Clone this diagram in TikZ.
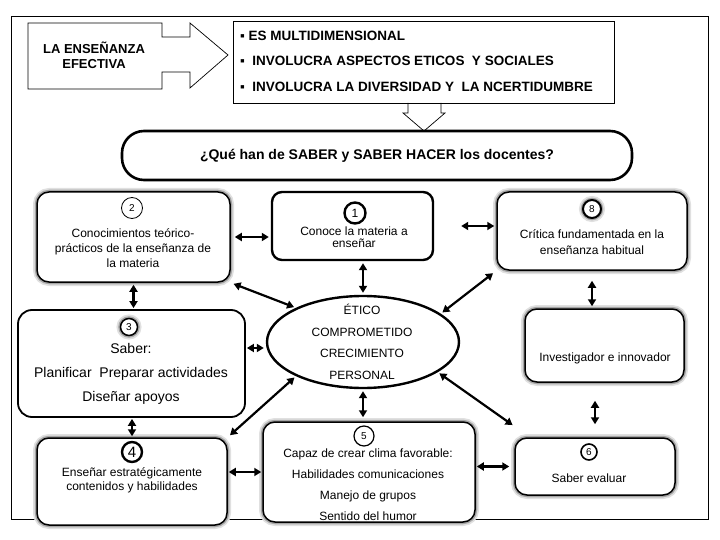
\documentclass[tikz,border=0pt]{standalone}
\usepackage{fontspec}
\setmainfont{Liberation Sans}
\usetikzlibrary{arrows.meta,shapes.geometric}

\tikzset{
	dbl/.style={{Triangle[length=7pt,width=8pt]}-{Triangle[length=7pt,width=8pt]}, line width=2.2pt},
	glow/.style={preaction={draw=black!12, line width=8pt}, preaction={draw=black!35, line width=4.5pt}},
	card/.style={draw, line width=1.5pt, fill=white, rounded corners=12pt, inner sep=0pt},
	num/.style={draw, circle, fill=white, inner sep=0pt, minimum size=20pt, font=\fontsize{10}{12}\selectfont},
	txt/.style={align=center, inner sep=0pt, font=\fontsize{12}{14}\selectfont},
	topfont/.style={inner sep=0pt, font=\bfseries\fontsize{13.5}{15}\selectfont}
}

\begin{document}
\begin{tikzpicture}[x=1pt,y=-1pt]
	\useasboundingbox (0,0) rectangle (720,540);
	%% marco
	\draw[line width=0.8pt] (11,16) rectangle (708,519);

	%% flecha de la izquierda y recuadro de ideas
	\draw[line width=0.7pt] (28,23) -- (162,23) -- (162,37) -- (190,37) -- (190,23) -- (228,55)
		-- (190,88) -- (190,72) -- (162,72) -- (162,89) -- (28,89) -- cycle;
	\node[topfont, align=center, font=\bfseries\fontsize{13}{15}\selectfont] (ense) at (94,55) {LA ENSEÑANZA\\EFECTIVA};
	\draw[line width=0.7pt] (233,21) rectangle (614,103);
	\node[topfont, anchor=west] (l1) at (240,36) {▪ ES MULTIDIMENSIONAL};
	\node[topfont, anchor=west] (l2) at (240,61) {▪\ \ INVOLUCRA ASPECTOS ETICOS\ \ Y SOCIALES};
	\node[topfont, anchor=west] (l3) at (240,87) {▪\ \ INVOLUCRA LA DIVERSIDAD Y\ \ LA NCERTIDUMBRE};
	\draw[line width=0.7pt] (408,103) -- (408,113) -- (403,113) -- (424,131) -- (445,113) -- (441,113) -- (441,103);

	%% pregunta
	\node[draw, line width=2.6pt, rounded corners=22pt, minimum width=510pt, minimum height=49pt,
		font=\bfseries\fontsize{14}{16}\selectfont] (ask) at (377,155.5) {¿Qué han de SABER y SABER HACER los docentes?};

	%% recuadros
	\node[card, glow, minimum width=193pt, minimum height=90pt] (b2) at (133.5,237) {};
	\node[card, line width=2.4pt, rounded corners=10pt, minimum width=161pt, minimum height=68pt] (b1) at (352.5,226) {};
	\node[card, glow, minimum width=190pt, minimum height=78pt] (b8) at (592,231) {};
	\node[card, line width=1.8pt, rounded corners=14pt, minimum width=227pt, minimum height=107pt] (b3) at (131.5,363.5) {};
	\node[card, glow, minimum width=159pt, minimum height=73pt] (inv) at (604.5,345.5) {};
	\node[card, glow, minimum width=190pt, minimum height=87pt] (b4) at (132,481.5) {};
	\node[card, glow, minimum width=212pt, minimum height=100pt] (b5) at (369,472) {};
	\node[card, glow, minimum width=160pt, minimum height=57pt] (b6) at (595,466.5) {};
	\node[draw, ellipse, line width=2.4pt, fill=white, inner sep=0pt, minimum width=192pt, minimum height=92pt] (ell) at (363,342) {};

	%% numeros
	\node[num, line width=0.8pt, minimum size=21pt] (n2) at (132,208) {2};
	\node[num, line width=2.4pt, minimum size=21pt, font=\fontsize{12}{14}\selectfont] (n1) at (355,213) {1};
	\node[num, glow, line width=2pt, minimum size=18pt] (n8) at (592,209) {8};
	\node[num, glow, line width=1.5pt, minimum size=17pt] (n3) at (129,327) {3};
	\node[num, line width=2.4pt, minimum size=20pt, font=\fontsize{15}{16}\selectfont] (n4) at (132,452) {4};
	\node[num, line width=1.2pt, minimum size=20pt] (n5) at (364,436) {5};
	\node[num, line width=1.6pt, minimum size=16pt] (n6) at (589,452) {6};

	%% textos
	\node[txt, font=\fontsize{12}{15}\selectfont] (t2) at (133,248) {Conocimientos teórico-\\prácticos de la enseñanza de\\la materia};
	\node[txt, font=\fontsize{12}{12.5}\selectfont] (t1) at (354,237) {Conoce la materia a\\enseñar};
	\node[txt, font=\fontsize{12}{16}\selectfont] (t8) at (592,242) {Crítica fundamentada en la\\enseñanza habitual};
	\node[txt, font=\fontsize{14}{24}\selectfont] (t3) at (131,374) {Saber:\\Planificar\ \ Preparar actividades\\Diseñar apoyos};
	\node[txt, font=\fontsize{12}{21.5}\selectfont] (te) at (362,342) {ÉTICO\\COMPROMETIDO\\CRECIMIENTO\\PERSONAL};
	\node[txt] (ti) at (605,358) {Investigador e innovador};
	\node[txt, font=\fontsize{12}{14}\selectfont] (t4) at (132,480) {Enseñar estratégicamente\\contenidos y habilidades};
	\node[txt, font=\fontsize{12}{21}\selectfont] (t5) at (368,484.5) {Capaz de crear clima favorable:\\Habilidades comunicaciones\\Manejo de grupos\\Sentido del humor};
	\node[txt] (t6) at (589,478) {Saber evaluar};

	%% flechas
	\draw[dbl, shorten <=4pt, shorten >=2pt] (b2.east) -- (b2.east -| b1.west);
	\draw[dbl, shorten <=27pt, shorten >=2pt] (b1.east) -- (b1.east -| b8.west);
	\draw[dbl, shorten <=2pt, shorten >=2pt] (ell.north |- b1.south) -- (ell.north);
	\draw[dbl, shorten <=2pt, shorten >=3pt] (ell.153) -- (b2.south east);
	\draw[dbl, shorten <=2pt, shorten >=4pt] (ell.20) -- (b8.south west);
	\draw[dbl, shorten <=10pt, shorten >=2pt] (b8.south) -- (b8.south |- inv.north);
	\draw[dbl, shorten <=2pt, shorten >=1pt] (b2.south) -- (b2.south |- b3.north);
	\draw[dbl, shorten <=1pt, shorten >=2pt] ([yshift=-6pt]b3.east |- ell.west) -- ([yshift=-6pt]ell.west);
	\draw[dbl, shorten <=2pt, shorten >=3pt] (ell.207) -- (b4.north east);
	\draw[dbl, shorten <=2pt, shorten >=4pt] (ell.south) -- (ell.south |- b5.north);
	\draw[dbl, shorten <=2pt, shorten >=2pt] (ell.-22) -- ([yshift=11pt]b6.north west);
	\draw[dbl, shorten <=13pt, shorten >=18pt] (b6.north) -- (b6.north |- inv.south);
	\draw[dbl, shorten <=1pt, shorten >=1pt] (b4.north) -- (b4.north |- b3.south);
	\draw[dbl, shorten <=1pt, shorten >=1pt] (b4.east |- b5.west) -- (b5.west);
	\draw[dbl, shorten <=1pt, shorten >=5pt] (b5.east |- b6.west) -- (b6.west);
\end{tikzpicture}
\end{document}
